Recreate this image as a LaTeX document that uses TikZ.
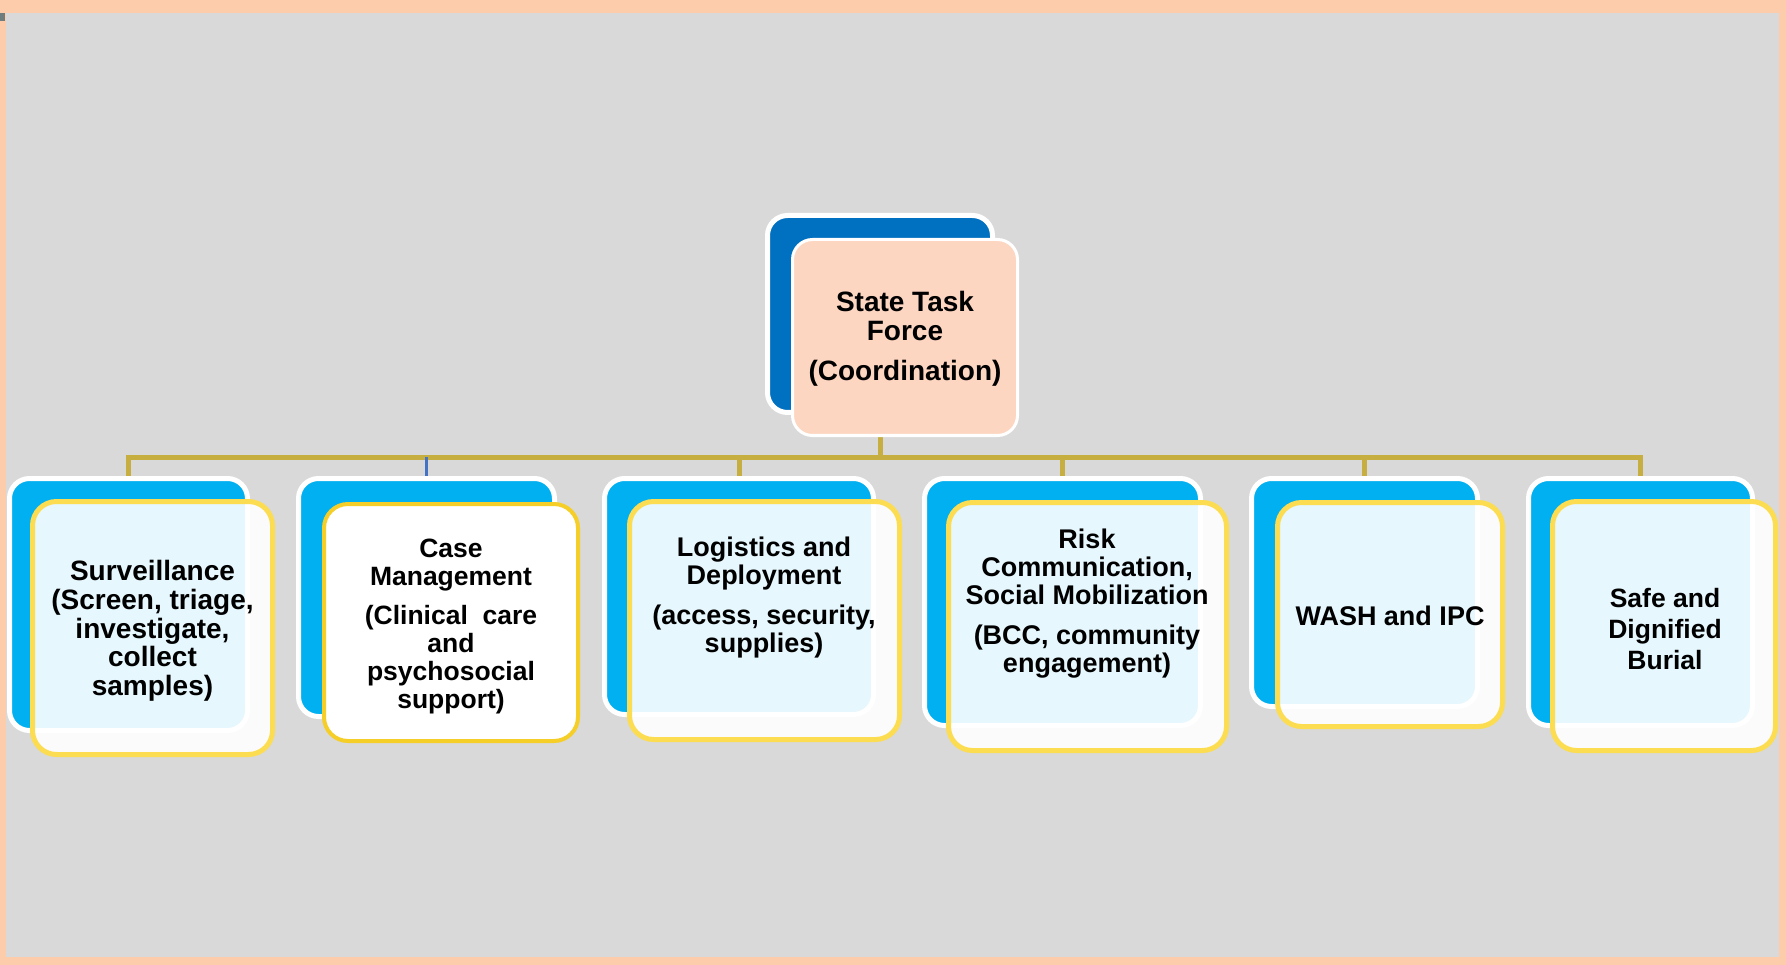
\documentclass[tikz,border=0pt]{standalone}
\usepackage{fontspec}
\setmainfont{Liberation Sans}
\definecolor{peach}{RGB}{253,204,170}
\definecolor{bg}{RGB}{217,217,217}
\definecolor{gold}{RGB}{198,174,64}
\definecolor{cyanbox}{RGB}{0,176,240}
\definecolor{navy}{RGB}{0,112,192}
\definecolor{topfill}{RGB}{253,214,194}
\definecolor{yel}{RGB}{252,220,80}
\definecolor{yeldark}{RGB}{245,206,40}
\definecolor{linkblue}{RGB}{68,114,196}
\definecolor{cornergray}{RGB}{110,125,125}
\pgfdeclarelayer{bottom}
\pgfdeclarelayer{background}
\pgfsetlayers{bottom,background,main}
\begin{document}
\begin{tikzpicture}[x=1pt,y=-1pt,
  backbox/.style={draw=white, line width=5pt, fill=cyanbox, rounded corners=20pt, inner sep=0pt},
  frontbox/.style={draw=yel, line width=5pt, fill=white, fill opacity=0.9, draw opacity=1, rounded corners=24pt, inner sep=0pt},
  boxtext/.style={font=\fontsize{27}{28}\selectfont\bfseries, align=center, inner sep=0pt},
  conn/.style={draw=gold, line width=5pt},
  blueconn/.style={draw=linkblue, line width=3pt},
]
\useasboundingbox (0,0) rectangle (1786,965);
\begin{pgfonlayer}{bottom}
\fill[peach] (0,0) rectangle (1786,965);
\fill[bg] (6,13) rectangle (1779,957);
\fill[cornergray] (0,13) rectangle (5,21);
\end{pgfonlayer}

% back boxes
\node[backbox, fill=navy, minimum width=225pt, minimum height=197pt] (tb) at (880,314) {};
\node[backbox, minimum width=238pt, minimum height=252pt] (b1) at (128.5,604.5) {};
\node[backbox, minimum width=256pt, minimum height=238pt] (b2) at (426.5,597.5) {};
\node[backbox, minimum width=269pt, minimum height=236pt] (b3) at (739,596.5) {};
\node[backbox, minimum width=276pt, minimum height=247pt] (b4) at (1062.5,602) {};
\node[backbox, minimum width=226pt, minimum height=228pt] (b5) at (1364.5,592.5) {};
\node[backbox, minimum width=224pt, minimum height=247pt] (b6) at (1640.5,602) {};

% connectors
\coordinate (bus) at (880,457);
\begin{pgfonlayer}{background}
\draw[conn] (tb.south) -- (bus);
\draw[conn] (bus) -| (b1.north);
\draw[conn] (bus) -- (bus -| b2.north);
\draw[blueconn] (bus -| b2.north) -- (b2.north);
\draw[conn] (bus) -| (b3.north);
\draw[conn] (bus) -| (b4.north);
\draw[conn] (bus) -| (b5.north);
\draw[conn] (bus) -| (b6.north);
\end{pgfonlayer}

% front boxes
\node[draw=white, line width=3pt, fill=topfill, rounded corners=20pt, inner sep=0pt, minimum width=225pt, minimum height=196pt] (tf) at (905,337.5) {};
\node[frontbox, minimum width=240pt, minimum height=253pt] (f1) at (152.5,628) {};
\node[frontbox, draw=yeldark, line width=4pt, fill opacity=1, minimum width=254pt, minimum height=237pt] (f2) at (451,622.5) {};
\node[frontbox, minimum width=270pt, minimum height=238pt] (f3) at (764.5,620.5) {};
\node[frontbox, minimum width=278pt, minimum height=248pt] (f4) at (1087.5,626.5) {};
\node[frontbox, minimum width=225pt, minimum height=224pt] (f5) at (1390,614.5) {};
\node[frontbox, minimum width=223pt, minimum height=249pt] (f6) at (1664,626) {};

% texts
\node[boxtext, font=\fontsize{28}{29}\selectfont\bfseries] (t0) at (905,338.5) {State Task\\Force\\[11pt](Coordination)};
\node[boxtext, font=\fontsize{28}{28.7}\selectfont\bfseries] (t1) at (152.5,631) {Surveillance\\(Screen, triage,\\investigate,\\collect\\samples)};
\node[boxtext, font=\fontsize{26.5}{28}\selectfont\bfseries] (t2) at (451,626) {Case\\Management\\[11pt](Clinical\ \ care\\and\\psychosocial\\support)};
\node[boxtext] (t3) at (764,598) {Logistics and\\Deployment\\[12pt](access, security,\\supplies)};
\node[boxtext] (t4) at (1087,603.5) {Risk\\Communication,\\Social Mobilization\\[12pt](BCC, community\\engagement)};
\node[boxtext] (t5) at (1390,616) {WASH and IPC};
\node[boxtext, font=\fontsize{26.5}{31}\selectfont\bfseries] (t6) at (1665,629) {Safe and\\Dignified\\Burial};
\end{tikzpicture}
\end{document}
